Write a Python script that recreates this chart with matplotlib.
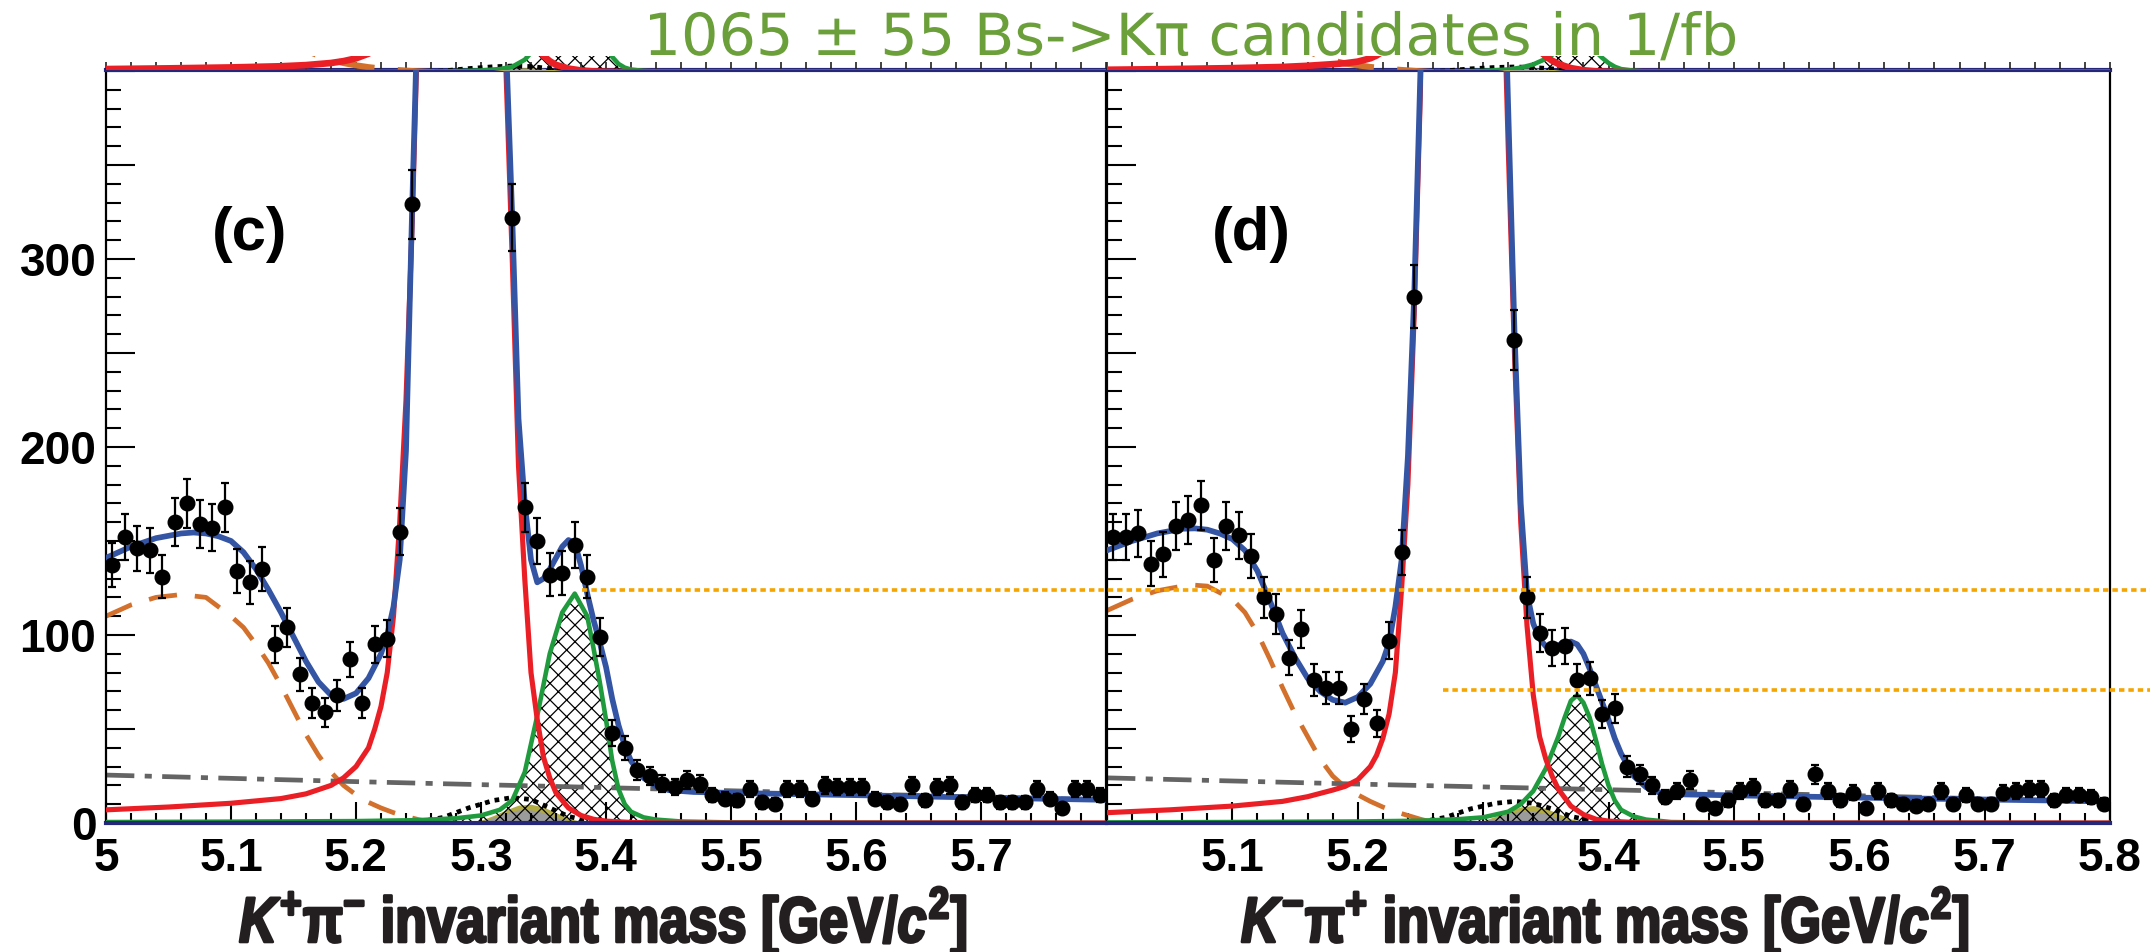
import numpy as np
import matplotlib
matplotlib.use('Agg')
import matplotlib.pyplot as plt
from matplotlib.ticker import MultipleLocator, FixedLocator, FixedFormatter
from matplotlib.lines import Line2D
from matplotlib.textpath import TextPath
from matplotlib.patches import PathPatch
from matplotlib.font_manager import FontProperties
from matplotlib.transforms import Affine2D, IdentityTransform

# ---- data ----
bin_centers = np.arange(80) * 0.01 + 5.005
nan = np.nan

counts_c = [137, 152, 146, 145, 131, 160, 170, 159, 157, 168,
            134, 128, 135, 95, 104, 79, 64, 59, 68, 87,
            64, 95, 98, 155, 329, nan, nan, nan, nan, nan,
            nan, nan, 322, 168, 150, 132, 133, 148, 131, 99,
            48, 40, 28, 25, 21, 19, 23, 21, 15, 13,
            12, 18, 11, 10, 18, 18, 13, 20, 19, 19,
            19, 13, 11, 10, 20, 12, 19, 20, 11, 15,
            15, 11, 11, 11, 18, 13, 8, 18, 18, 15]
counts_d = [152, 152, 154, 138, 143, 158, 161, 169, 140, 158,
            153, 142, 120, 111, 88, 103, 76, 72, 72, 50,
            66, 53, 97, 144, 280, nan, nan, nan, nan, nan,
            nan, nan, 257, 120, 101, 93, 94, 76, 77, 58,
            61, 30, 26, 20, 14, 17, 23, 10, 8, 12,
            17, 19, 12, 12, 18, 10, 26, 17, 12, 16,
            8, 17, 12, 10, 9, 10, 17, 10, 15, 10,
            10, 16, 17, 18, 18, 12, 15, 15, 14, 10]

# total fit (blue)
blue_c_x = [5.00, 5.02, 5.04, 5.06, 5.07, 5.08, 5.09, 5.10, 5.11, 5.12, 5.13, 5.14, 5.15, 5.16,
            5.17, 5.18, 5.19, 5.20, 5.21, 5.22, 5.225, 5.23, 5.235, 5.24, 5.245, 5.25, 5.26,
            5.28, 5.30, 5.315, 5.32, 5.325, 5.33, 5.335, 5.34, 5.345, 5.35, 5.355, 5.36, 5.365,
            5.37, 5.375, 5.38, 5.385, 5.39, 5.395, 5.40, 5.405, 5.41, 5.415, 5.42, 5.43, 5.44,
            5.45, 5.47, 5.50, 5.60, 5.70, 5.80]
blue_c_y = [141, 147, 151.5, 154, 154.5, 154, 152.5, 150, 144, 135, 124, 112, 99, 86,
            75, 68, 66, 69, 77, 90, 100, 115, 140, 198, 329, 450, 1100,
            3100, 1100, 540, 415, 322, 215, 170, 140, 128, 130, 135, 141, 147,
            150.5, 149, 137, 122, 108, 96, 83, 66, 52, 41, 33, 24, 19.5,
            17.5, 16.5, 16, 14.8, 13.5, 12.3]
blue_d_x = [5.00, 5.02, 5.04, 5.06, 5.07, 5.08, 5.09, 5.10, 5.11, 5.12, 5.13, 5.14, 5.15, 5.16,
            5.17, 5.18, 5.19, 5.20, 5.21, 5.22, 5.225, 5.23, 5.235, 5.24, 5.245, 5.25, 5.26,
            5.28, 5.30, 5.315, 5.32, 5.325, 5.33, 5.335, 5.34, 5.345, 5.35, 5.36, 5.37, 5.375,
            5.38, 5.385, 5.39, 5.395, 5.40, 5.405, 5.41, 5.415, 5.42, 5.43, 5.44, 5.46, 5.50,
            5.60, 5.70, 5.80]
blue_d_y = [145, 150, 154, 156.5, 156.7, 156, 154, 151, 145, 134, 118, 101, 88, 77,
            70, 65.5, 64, 67, 74, 86, 96, 115, 140, 195, 280, 400, 1000,
            3000, 1000, 500, 380, 262, 170, 122, 106, 98, 94, 94.5, 96.5, 95,
            90, 82, 73, 64, 55, 45, 37, 31, 25, 19, 16.3, 15.2, 14.7,
            13.5, 12.5, 11.5]

# B0 -> K pi (red)
red_c_x = [5.00, 5.05, 5.10, 5.14, 5.16, 5.18, 5.19, 5.20, 5.21, 5.215, 5.22, 5.225, 5.23,
           5.235, 5.24, 5.245, 5.25, 5.26, 5.28, 5.30, 5.315, 5.32, 5.325, 5.33, 5.335, 5.34,
           5.345, 5.35, 5.355, 5.36, 5.37, 5.38, 5.39, 5.40, 5.42, 5.45, 5.80]
red_c_y = [7, 8.5, 10.5, 13, 15.5, 20, 24, 30, 40, 50, 62, 80, 110,
           160, 225, 320, 440, 1000, 3000, 1000, 520, 400, 300, 190, 130, 80,
           55, 35, 24, 16, 8, 4, 2, 1, 0.3, 0, 0]
red_d_x = [5.00, 5.05, 5.10, 5.14, 5.16, 5.18, 5.19, 5.20, 5.21, 5.215, 5.22, 5.225, 5.23,
           5.235, 5.24, 5.245, 5.25, 5.26, 5.28, 5.30, 5.315, 5.32, 5.325, 5.33, 5.335, 5.34,
           5.345, 5.35, 5.355, 5.36, 5.37, 5.38, 5.39, 5.40, 5.42, 5.45, 5.80]
red_d_y = [5.5, 7, 9, 11.5, 14, 17.5, 19.5, 23, 30, 36, 45, 58, 80,
           125, 180, 270, 390, 1000, 3000, 1000, 480, 360, 250, 160, 105, 68,
           46, 34, 25, 18, 9, 4.5, 2, 1, 0.3, 0, 0]

# Bs -> K pi (green, hatched)
green_c_x = [5.00, 5.10, 5.20, 5.25, 5.28, 5.30, 5.315, 5.325, 5.335, 5.345, 5.355, 5.365,
             5.375, 5.385, 5.39, 5.395, 5.40, 5.405, 5.41, 5.415, 5.42, 5.43, 5.44, 5.46,
             5.50, 5.80]
green_c_y = [0.5, 0.7, 1.0, 1.5, 2.5, 4, 7, 12, 27, 57, 90, 112,
             122, 110, 93, 75, 55, 33, 18, 10, 6, 3, 1.8, 0.8,
             0.3, 0]
green_d_x = [5.00, 5.10, 5.20, 5.25, 5.28, 5.30, 5.32, 5.33, 5.34, 5.35, 5.36, 5.365, 5.37,
             5.375, 5.38, 5.385, 5.39, 5.395, 5.40, 5.405, 5.41, 5.42, 5.43, 5.45, 5.50, 5.80]
green_d_y = [0.3, 0.5, 0.8, 1.2, 2, 3, 6, 10, 17, 29, 46, 56, 65,
             68, 64, 56, 44, 31, 20, 12, 7, 3.5, 1.8, 0.5, 0.1, 0]

# partially reconstructed background (orange dashed)
orange_c_x = [5.00, 5.02, 5.04, 5.06, 5.08, 5.10, 5.11, 5.12, 5.13, 5.14, 5.15, 5.16, 5.17,
              5.18, 5.19, 5.20, 5.21, 5.22, 5.23, 5.24, 5.25, 5.26, 5.265]
orange_c_y = [110, 116, 120, 121.5, 120, 110, 104, 95, 85, 73, 60, 47, 36,
              27, 20, 15, 11, 8, 5.5, 3.5, 1.8, 0.5, 0]
orange_d_x = [5.00, 5.02, 5.04, 5.06, 5.07, 5.08, 5.10, 5.11, 5.12, 5.13, 5.14, 5.15, 5.16,
              5.17, 5.18, 5.19, 5.20, 5.21, 5.22, 5.23, 5.24, 5.25, 5.26, 5.265]
orange_d_y = [113, 119, 123.5, 126, 126.5, 126, 119, 112, 101, 87, 72, 58, 46,
              34, 25, 19, 15, 11.5, 8.5, 6, 4, 2, 0.3, 0]

# combinatorial background (grey dash-dot)
comb_x = [5.0, 5.2, 5.4, 5.6, 5.8]
comb_c_y = [25.5, 22, 18.8, 15.5, 12.2]
comb_d_y = [24, 20.7, 17.7, 14.5, 11.2]

# small components near 5.33
dotted_x = [5.25, 5.27, 5.29, 5.31, 5.325, 5.34, 5.355, 5.37, 5.385, 5.40]
dotted_c_y = [0.5, 3, 8, 12, 13.5, 12.5, 8, 3.5, 1.2, 0]
dotted_d_y = [0.5, 3, 7.5, 10.5, 11.5, 10.5, 7.5, 3.5, 1.4, 0]
bump_x = [5.29, 5.30, 5.31, 5.32, 5.33, 5.34, 5.35, 5.36, 5.37, 5.38, 5.39]
olive_c_y = [0, 1.5, 4, 7, 9.5, 10, 8.5, 5.5, 2.5, 0.8, 0]
olive_d_y = [0, 1.3, 3.6, 6.3, 8.6, 9.3, 7.8, 5, 2.2, 0.7, 0]
grey_c_y = [0, 1, 3, 5.5, 7, 7, 5.5, 3, 1.2, 0.3, 0]
grey_d_y = [0, 0.9, 2.7, 5, 6.3, 6.3, 5, 2.7, 1.1, 0.3, 0]

# orange dotted guide lines: (panel, start mass, level)
guides = [('c', 5.381, 124), ('d', 5.268, 71)]

x_ticks = [5.0, 5.1, 5.2, 5.3, 5.4, 5.5, 5.6, 5.7, 5.8]
x_labels_c = ['5', '5.1', '5.2', '5.3', '5.4', '5.5', '5.6', '5.7', '']
x_labels_d = ['', '5.1', '5.2', '5.3', '5.4', '5.5', '5.6', '5.7', '5.8']
y_ticks = [0, 50, 100, 150, 200, 250, 300, 350, 400]
y_labels = ['0', '', '100', '', '200', '', '300', '', '']

title = '1065 \u00b1 55 Bs->K\u03c0 candidates in 1/fb'
xlabel_c = r'$K^{+}\mathrm{\pi}^{-}$ invariant mass [GeV/$c^{2}$]'
xlabel_d = r'$K^{-}\mathrm{\pi}^{+}$ invariant mass [GeV/$c^{2}$]'

plt.rcParams['font.family'] = ['Liberation Sans', 'DejaVu Sans']
plt.rcParams['font.weight'] = 'bold'
plt.rcParams['mathtext.fontset'] = 'custom'
plt.rcParams['mathtext.rm'] = 'Liberation Sans:bold'
plt.rcParams['mathtext.it'] = 'Liberation Sans:bold:italic'
plt.rcParams['mathtext.bf'] = 'Liberation Sans:bold'
plt.rcParams['hatch.linewidth'] = 0.9

W, H = 2150.0, 952.0
fig = plt.figure(figsize=(W / 100, H / 100), dpi=100)
axc = fig.add_axes([106 / W, 129 / H, 1000 / W, 753 / H])
axd = fig.add_axes([1107 / W, 129 / H, 1003 / W, 753 / H])
# thin strip above: bottom edge of the panels above, cut off by the crop
stripc = fig.add_axes([106 / W, 882 / H, 1000 / W, 14 / H])
stripd = fig.add_axes([1107 / W, 882 / H, 1003 / W, 14 / H])


def draw_components(ax, rx, ry, gx, gy, ox, oy, dy, oly, gry, lw_scale=1.0):
    ax.fill_between(bump_x, 0, oly, color='#b3ac42', lw=0, zorder=1)
    ax.fill_between(bump_x, 0, gry, color='#9b9b9b', lw=0, zorder=1.1)
    ax.fill_between(gx, 0, gy, facecolor='none', edgecolor='black', hatch='xx', lw=0, zorder=1.5)
    ax.plot(dotted_x, dy, color='black', lw=3.4, ls=(0, (1, 1.1)), zorder=2)
    ax.plot(ox, oy, color='#d2702c', lw=3.4 * lw_scale, ls=(0, (6, 3.8)), zorder=2)
    ax.plot(gx, gy, color='#1f9a3c', lw=3.3, zorder=3)
    ax.plot(rx, ry, color='#ea1f26', lw=3.7 * lw_scale, zorder=3)


def draw_panel(ax, strip, counts, bx, by, rx, ry, gx, gy, ox, oy, cy, dy, oly, gry,
               xlabels, ylabels, tag):
    draw_components(ax, rx, ry, gx, gy, ox, oy, dy, oly, gry)
    ax.plot(comb_x, cy, color='#646464', lw=3.4, ls=(0, (6, 2.2, 1.5, 2.2)), zorder=2)
    ax.plot(bx, by, color='#3454a4', lw=4.1, zorder=4)
    c = np.array(counts, dtype=float)
    ax.errorbar(bin_centers, c, yerr=np.sqrt(c), fmt='o', color='black', ms=10.5,
                elinewidth=1.6, capsize=2.6, capthick=1.6, zorder=5)
    ax.axhline(0, color='#25287a', lw=3, zorder=4.5, clip_on=False)

    ax.set_xlim(5.0, 5.8)
    ax.set_ylim(0, 400.5)
    ax.xaxis.set_major_locator(FixedLocator(x_ticks))
    ax.xaxis.set_major_formatter(FixedFormatter(xlabels))
    ax.xaxis.set_minor_locator(MultipleLocator(0.02))
    ax.yaxis.set_major_locator(FixedLocator(y_ticks))
    ax.yaxis.set_major_formatter(FixedFormatter(ylabels))
    ax.yaxis.set_minor_locator(MultipleLocator(10))
    ax.tick_params(axis='x', which='major', direction='in', length=15, width=1.5,
                   labelsize=33, pad=10, top=False)
    ax.tick_params(axis='x', which='minor', direction='in', length=7.5, width=1.5, top=False)
    ax.tick_params(axis='y', which='major', direction='in', length=21, width=1.5,
                   labelsize=33, pad=7, right=False)
    ax.tick_params(axis='y', which='minor', direction='in', length=10.5, width=1.5, right=False)
    for s in ['left', 'right', 'bottom']:
        ax.spines[s].set_linewidth(1.6)
    ax.spines['top'].set_linewidth(3)
    ax.spines['top'].set_color('#25287a')
    ax.text(5.115, 313, tag, fontsize=44.5, fontweight='bold', ha='center', va='center')

    draw_components(strip, rx, ry, gx, gy, ox, oy, dy, oly, gry, lw_scale=1.3)
    strip.set_xlim(5.0, 5.8)
    strip.set_ylim(5, 35)
    strip.patch.set_visible(False)
    for s in ['left', 'right', 'top', 'bottom']:
        strip.spines[s].set_visible(False)
    strip.set_yticks([])
    strip.xaxis.set_major_locator(MultipleLocator(0.1))
    strip.xaxis.set_minor_locator(MultipleLocator(0.02))
    strip.tick_params(axis='x', which='both', direction='in', length=6, width=1.2,
                      labelbottom=False, color='#222222')


draw_panel(axc, stripc, counts_c, blue_c_x, blue_c_y, red_c_x, red_c_y, green_c_x, green_c_y,
           orange_c_x, orange_c_y, comb_c_y, dotted_c_y, olive_c_y, grey_c_y,
           x_labels_c, y_labels, '(c)')
draw_panel(axd, stripd, counts_d, blue_d_x, blue_d_y, red_d_x, red_d_y, green_d_x, green_d_y,
           orange_d_x, orange_d_y, comb_d_y, dotted_d_y, olive_d_y, grey_d_y,
           x_labels_d, ['' for _ in y_labels], '(d)')

# guide lines run from a point in the panel to the right edge of the image
inv = fig.transFigure.inverted()
for panel, x0, level in guides:
    ax = axc if panel == 'c' else axd
    fx, fy = inv.transform(ax.transData.transform((x0, level)))
    fig.add_artist(Line2D([fx, 1.0], [fy, fy], transform=fig.transFigure, color='#f5a400',
                          lw=2.6, ls=(0, (1.5, 1.1)), zorder=10))


def path_text(s, prop, x_left, baseline, width, em, color, stroke=0.0):
    # text drawn as a path so it can be narrowed to the width seen in the picture
    tp = TextPath((0, 0), s, size=em, prop=prop)
    ext = tp.get_extents()
    sx = width / ext.width
    tr = Affine2D().translate(-ext.x0, 0).scale(sx, 1.0).translate(x_left, baseline)
    fig.add_artist(PathPatch(tr.transform_path(tp), facecolor=color, edgecolor=color,
                             lw=stroke, joinstyle='round', transform=IdentityTransform()))


bold = FontProperties(family='Liberation Sans', weight='bold')
path_text(xlabel_c, bold, 240, H - 942, 725, 64, '#231f20', stroke=2.0)
path_text(xlabel_d, bold, 1242, H - 942, 725, 64, '#231f20', stroke=2.0)
path_text(title, FontProperties(family='DejaVu Sans', weight='normal'), 650, H - 55, 1085, 58,
          '#6a9f3a')

fig.savefig('out.png', dpi=100)
